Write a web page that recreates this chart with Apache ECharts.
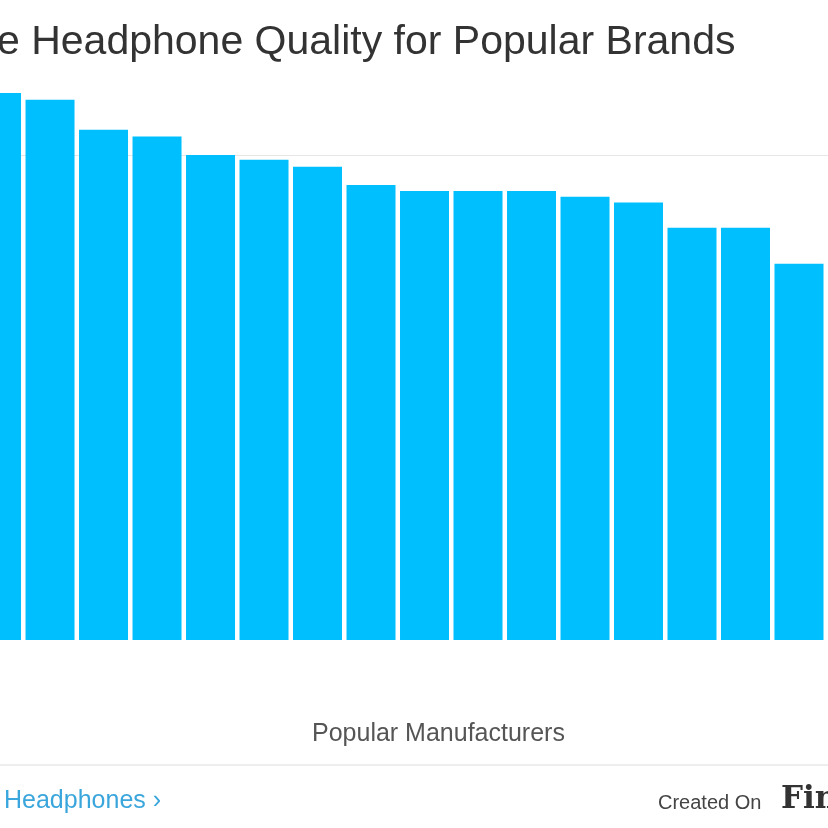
<!DOCTYPE html><html><head><meta charset="utf-8"><script src="https://cdn.jsdelivr.net/npm/echarts@6/dist/echarts.min.js"></script></head><body style="margin:0"><div id="c" style="width:828px;height:828px"></div><script>
var categories=['B1','B2','B3','B4','B5','B6','B7','B8','B9','B10','B11','B12','B13','B14','B15','B16','B17'];
var values=[5.64,5.57,5.26,5.19,5.0,4.95,4.88,4.69,4.63,4.63,4.63,4.57,4.51,4.25,4.25,3.88,3.35];
var c=echarts.init(document.getElementById('c'));
c.setOption({animation:false,backgroundColor:'#fff',
grid:{left:0,right:0,top:58,bottom:188},
xAxis:{type:'value',min:0.065,max:15.542,axisLine:{show:false},axisTick:{show:false},axisLabel:{show:false},splitLine:{show:false}},
yAxis:{type:'value',min:0,max:6,interval:5,axisLabel:{show:false},axisLine:{show:false},splitLine:{showMaxLine:false,showMinLine:false,lineStyle:{color:'#e6e6e6'}}},
series:[{type:'bar',data:values.map(function(v,i){return [i,v];}),barWidth:49,clip:true,itemStyle:{color:'#00BFFF'}}],
graphic:[
{type:'text',left:-3,top:22,style:{text:'e Headphone Quality for Popular Brands',font:'41px "Liberation Sans", Arial',fill:'#333'}},
{type:'text',left:312,top:722,style:{text:'Popular Manufacturers',font:'25px "Liberation Sans", Arial',fill:'#555'}},
{type:'rect',shape:{x:0,y:764,width:828,height:2},style:{fill:'#eeeeee'}},
{type:'text',left:4,top:789,style:{text:'Headphones ›',font:'25px "Liberation Sans", Arial',fill:'#3aa6dc'}},
{type:'text',left:658,top:793,style:{text:'Created On',font:'20px "Liberation Sans", Arial',fill:'#444'}},
{type:'text',left:781,top:784,style:{text:'Fin',font:'bold 31px "DejaVu Serif", serif',fill:'#333'}}
]});
</script></body></html>
